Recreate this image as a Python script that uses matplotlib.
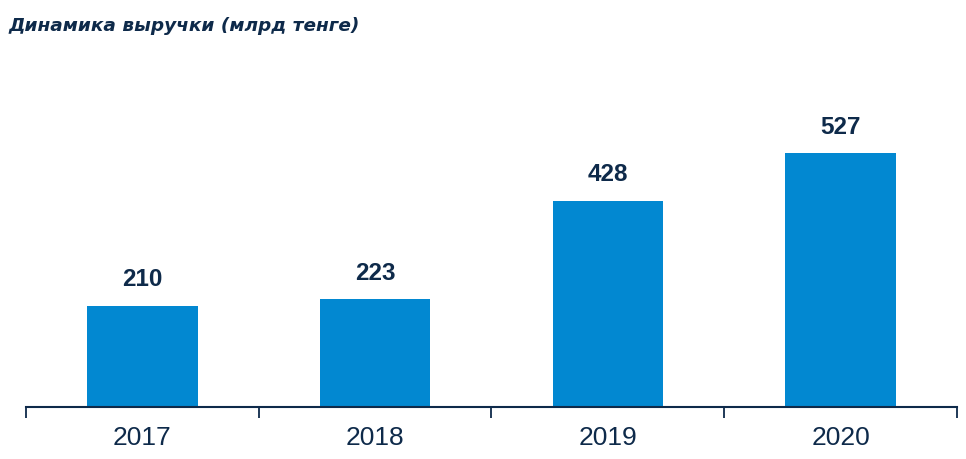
import matplotlib.pyplot as plt

years = ["2017", "2018", "2019", "2020"]
revenue = [210, 223, 428, 527]

bar_color = "#0288D1"
navy = "#0E2A4A"

fig = plt.figure(figsize=(9.66, 4.6), dpi=100)
ax = fig.add_axes([26 / 966, 52 / 460, 931 / 966, 368 / 460])

x = list(range(len(years)))
bars = ax.bar(x, revenue, width=0.475, color=bar_color)

for xi, v in zip(x, revenue):
    ax.annotate(str(v), (xi, v), xytext=(0, 11), textcoords="offset points",
                ha="center", va="bottom", fontsize=17.5, fontweight="bold",
                color=navy, family="Liberation Sans")

ax.set_xlim(-0.5, len(years) - 0.5)
ax.set_ylim(0, 763)

# tick marks between categories, labels at centers
ax.set_xticks([i - 0.5 for i in range(len(years) + 1)])
ax.set_xticklabels([])
ax.set_xticks(x, minor=True)
ax.set_xticklabels(years, minor=True, fontsize=19, color=navy, family="Liberation Sans")
ax.tick_params(axis="x", which="major", length=8, width=1.3, color=navy, direction="out")
ax.tick_params(axis="x", which="minor", length=0, pad=13)
ax.set_yticks([])

for s in ["top", "left", "right"]:
    ax.spines[s].set_visible(False)
ax.spines["bottom"].set_color(navy)
ax.spines["bottom"].set_linewidth(1.5)

fig.text(8 / 966, 1 - 31 / 460, "Динамика выручки (млрд тенге)", fontsize=13.3,
         fontweight="bold", fontstyle="italic", color=navy, family="DejaVu Sans",
         ha="left", va="baseline")

fig.savefig("out.png", dpi=100)
